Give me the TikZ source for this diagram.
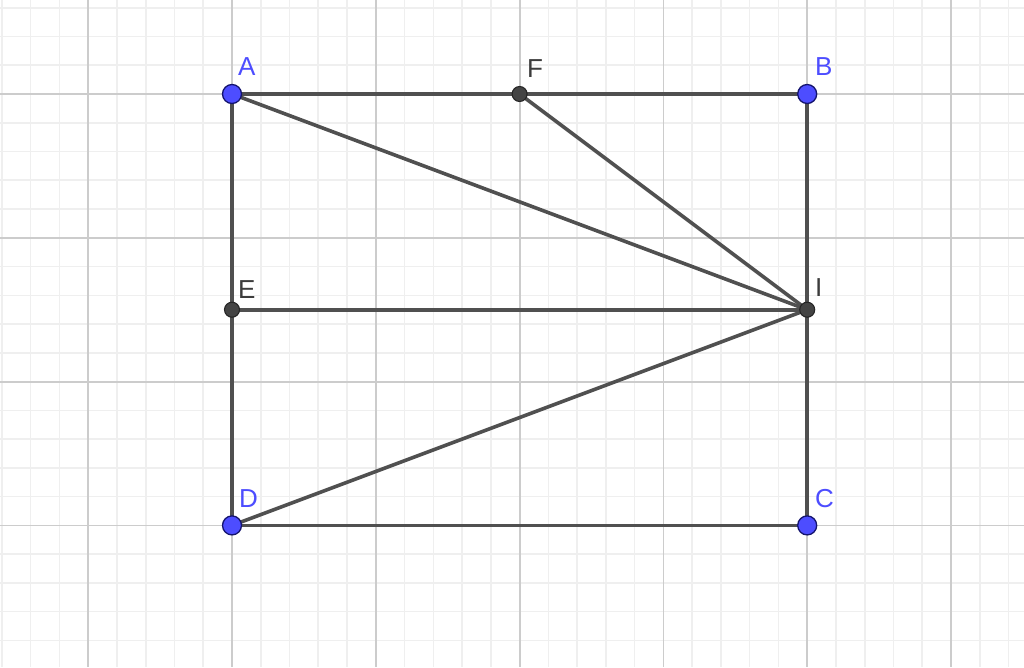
\documentclass[tikz,border=0pt]{standalone}
\usepackage{fontspec}
\setmainfont{Liberation Sans}
\definecolor{ggblue}{RGB}{77,77,255}
\definecolor{ggblueb}{RGB}{20,20,110}
\definecolor{ggdark}{RGB}{68,68,68}
\definecolor{ggline}{RGB}{80,80,80}
\definecolor{gridminor}{RGB}{239,239,239}
\definecolor{gridmajor}{RGB}{204,204,204}
\definecolor{labdark}{RGB}{60,60,60}
\begin{document}
\begin{tikzpicture}[x=1pt,y=-1pt,
  seg/.style={draw=ggline,line width=3.6pt},
  freept/.style={circle,fill=ggblue,draw=ggblueb,line width=1.3pt,inner sep=0pt,minimum size=19pt},
  deppt/.style={circle,fill=ggdark,draw=black!85,line width=1.1pt,inner sep=0pt,minimum size=15pt},
  bluelab/.style={anchor=base west,inner sep=0pt,text=ggblue,font=\fontsize{26}{26}\selectfont},
  darklab/.style={anchor=base west,inner sep=0pt,text=labdark,font=\fontsize{26}{26}\selectfont}]
\fill[white] (0,0) rectangle (1024,667);
\useasboundingbox (0,0) rectangle (1024,667);
% minor grid
\foreach \k in {-3,...,33} {
  \pgfmathsetmacro{\xx}{88.2+28.76*\k}
  \draw[gridminor,line width=1.6pt] (\xx,0) -- (\xx,667);
}
\foreach \k in {-4,...,20} {
  \pgfmathsetmacro{\yy}{94+28.76*\k}
  \draw[gridminor,line width=1.6pt] (0,\yy) -- (1024,\yy);
}
% major grid
\foreach \k in {-1,...,6} {
  \pgfmathsetmacro{\xx}{88.2+143.8*\k}
  \draw[gridmajor,line width=1.8pt] (\xx,0) -- (\xx,667);
}
\foreach \k in {0,...,4} {
  \pgfmathsetmacro{\yy}{94+143.8*\k}
  \draw[gridmajor,line width=1.8pt] (0,\yy) -- (1024,\yy);
}
% points
\coordinate (A) at (232,94);
\coordinate (B) at (807.2,94);
\coordinate (C) at (807.2,525.4);
\coordinate (D) at (232,525.4);
\coordinate (E) at (232,309.7);
\coordinate (F) at (519.6,94);
\coordinate (I) at (807.2,309.7);
% segments
\draw[seg] (A) -- (B);
\draw[seg] (B) -- (C);
\draw[seg] (C) -- (D);
\draw[seg] (D) -- (A);
\draw[seg] (A) -- (I);
\draw[seg] (F) -- (I);
\draw[seg] (E) -- (I);
\draw[seg] (D) -- (I);
% point markers
\node[deppt] (pE) at (E) {};
\node[deppt] (pF) at (F) {};
\node[deppt] (pI) at (I) {};
\node[freept] (pA) at (A) {};
\node[freept] (pB) at (B) {};
\node[freept] (pC) at (C) {};
\node[freept] (pD) at (D) {};
% labels
\node[bluelab] (lA) at (238,75) {A};
\node[bluelab] (lB) at (815,75) {B};
\node[bluelab] (lC) at (815,507) {C};
\node[bluelab] (lD) at (239,507) {D};
\node[darklab] (lE) at (238,298) {E};
\node[darklab] (lF) at (527,77) {F};
\node[darklab] (lI) at (815,296) {I};
\end{tikzpicture}
\end{document}
